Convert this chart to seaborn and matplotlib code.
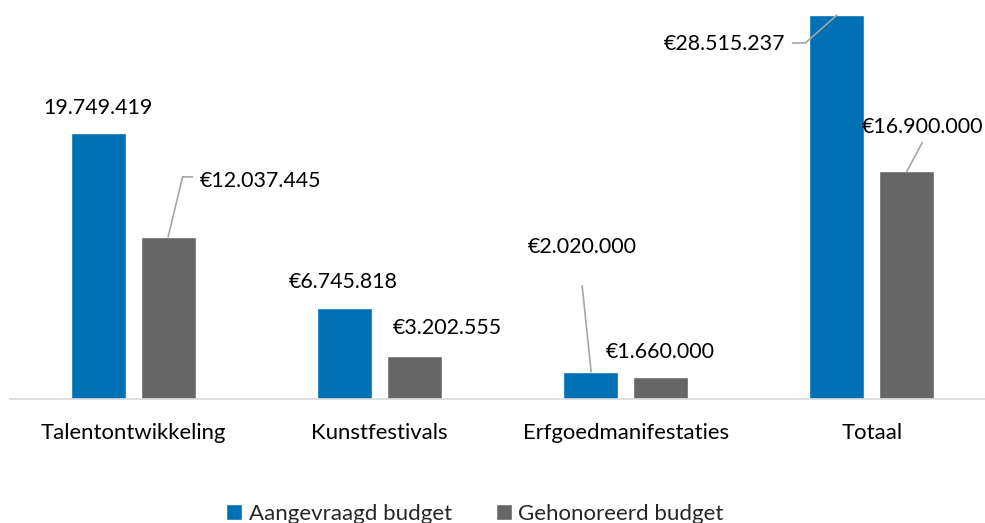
import pandas as pd
import seaborn as sns
import matplotlib.pyplot as plt
from matplotlib.transforms import offset_copy

categories = ['Talentontwikkeling', 'Kunstfestivals', 'Erfgoedmanifestaties', 'Totaal']
series = ['Aangevraagd budget', 'Gehonoreerd budget']
aangevraagd = [19749419, 6745818, 2020000, 28515237]
gehonoreerd = [12037445, 3202555, 1660000, 16900000]
labels_aangevraagd = ['19.749.419', '€6.745.818', '€2.020.000', '€28.515.237']
labels_gehonoreerd = ['€12.037.445', '€3.202.555', '€1.660.000', '€16.900.000']

blue = '#0071B5'
grey = '#666666'
line_grey = '#A6A6A6'

df = pd.DataFrame({
    'categorie': categories * 2,
    'type': [series[0]] * 4 + [series[1]] * 4,
    'bedrag': aangevraagd + gehonoreerd,
})

sns.set_style('white')
plt.rcParams['font.family'] = ['Lato', 'DejaVu Sans']

fig = plt.figure(figsize=(9.85, 5.23), dpi=100)
ax = fig.add_axes([10 / 985, 124 / 523, 985 / 985, 384 / 523])

sns.barplot(data=df, x='categorie', y='bedrag', hue='type', palette=[blue, grey],
            saturation=1, width=0.568, gap=0.214, ax=ax, legend=True)

ax.set_xlim(-0.5, 3.5)
ax.set_ylim(0, max(aangevraagd))
ax.set_xlabel('')
ax.set_ylabel('')
ax.set_yticks([])
for s in ['top', 'right', 'left']:
    ax.spines[s].set_visible(False)
ax.spines['bottom'].set_color('#D9D9D9')
ax.spines['bottom'].set_linewidth(1.2)
ax.tick_params(axis='x', length=0, pad=17, labelsize=15.9, labelcolor='black')

# label offsets in pixels from the bar top: (dx, dy, ha), and leader polylines
label_pos = [
    [(0, 25, 'center'), (-1.5, 26, 'center'), (-8.5, 125, 'center'), (-52, -29, 'right')],
    [(31.5, 56, 'left'), (33, 28, 'center'), (0, 25, 'center'), (15.5, 44, 'center')],
]
leaders = [
    [None, None, [(0.5, 0), (-8.5, 86)], [(0, 0), (-31.5, -28), (-44.5, -28)]],
    [[(0, 0), (14.5, 60), (24.5, 60)], None, None, [(0, 0), (15.5, 29)]],
]
texts = [labels_aangevraagd, labels_gehonoreerd]

for si, cont in enumerate(ax.containers):
    for bi, bar in enumerate(cont):
        x = bar.get_x() + bar.get_width() / 2
        h = bar.get_height()
        dx, dy, ha = label_pos[si][bi]
        ax.annotate(texts[si][bi], xy=(x, h), xytext=(dx, dy), textcoords='offset pixels',
                    ha=ha, va='center', fontsize=15.4, color='black', annotation_clip=False)
        pts = leaders[si][bi]
        if pts:
            for (ax0, ay0), (ax1, ay1) in zip(pts[:-1], pts[1:]):
                ax.annotate('', xy=(x, h),
                            xycoords=offset_copy(ax.transData, fig, ax1, ay1, units='dots'),
                            xytext=(x, h),
                            textcoords=offset_copy(ax.transData, fig, ax0, ay0, units='dots'),
                            arrowprops=dict(arrowstyle='-', color=line_grey, lw=1.2,
                                            shrinkA=0, shrinkB=0),
                            annotation_clip=False)

handles, lbls = ax.get_legend_handles_labels()
ax.get_legend().remove()
fig.legend(handles, lbls, loc='center', bbox_to_anchor=(475 / 985, 1 - 514 / 523), ncol=2,
           frameon=False, fontsize=16, handlelength=0.7, handleheight=0.7,
           handletextpad=0.3, columnspacing=2.0)

fig.savefig('out.png', dpi=100)
